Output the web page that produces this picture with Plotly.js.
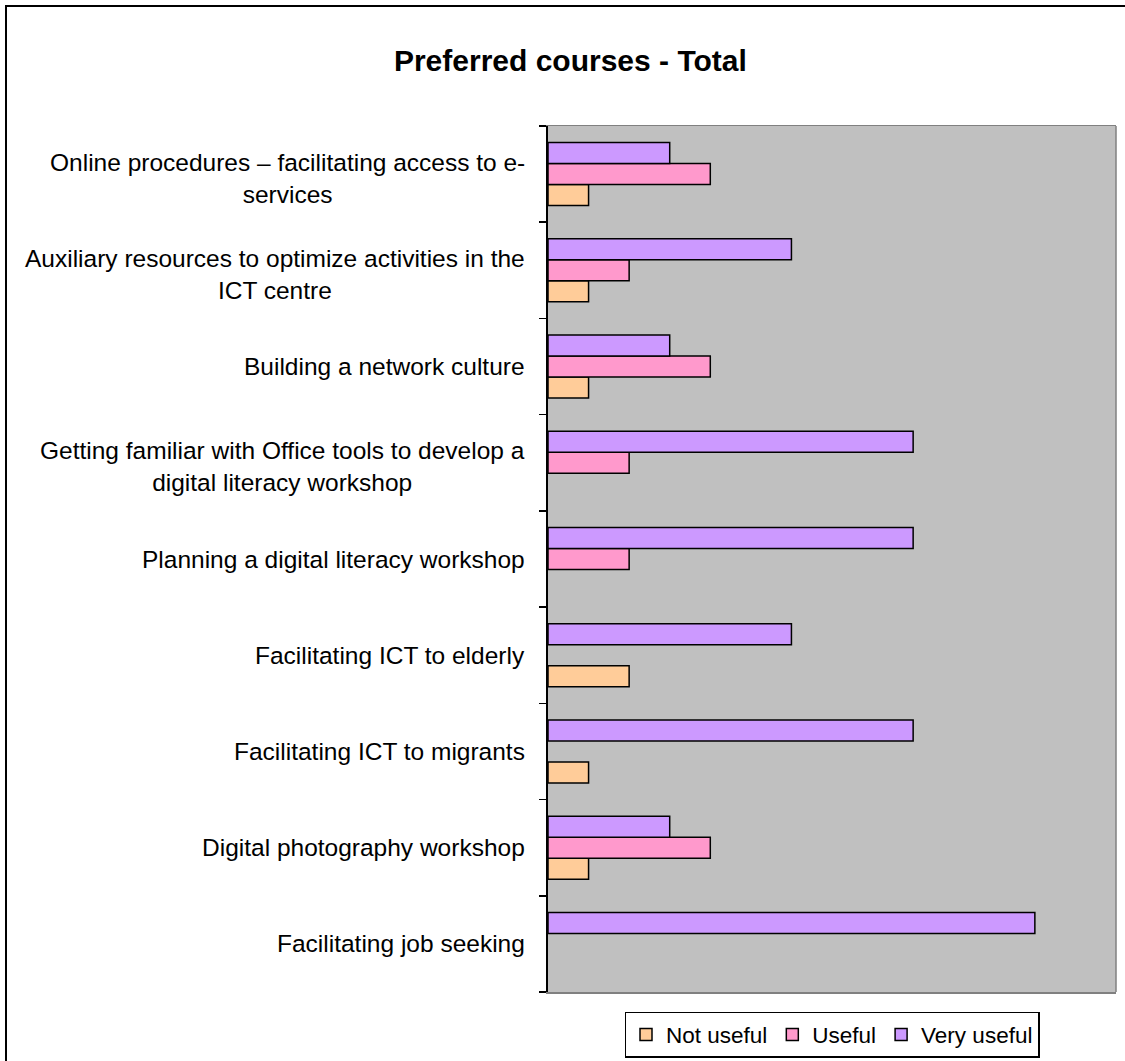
<!DOCTYPE html>
<html>
<head>
<meta charset="utf-8">
<script src="https://cdn.plot.ly/plotly-3.0.1.min.js"></script>
<style>
  html, body { margin: 0; padding: 0; overflow: hidden; background: #fff; }
  #chart { position: absolute; left: 0; top: 0; width: 1125px; height: 1061px; }
  #frame { position: absolute; left: 5px; top: 5px; width: 1300px; height: 1300px;
           border: 2px solid #000; pointer-events: none; box-sizing: border-box; }
</style>
</head>
<body>
<div id="chart"></div>
<div id="frame"></div>
<script>
// Categories listed bottom to top
const categories = [
  "Facilitating job seeking",
  "Digital photography workshop",
  "Facilitating ICT to migrants",
  "Facilitating ICT to elderly",
  "Planning a digital literacy workshop",
  "Getting familiar with Office tools to develop a<br>digital literacy workshop",
  "Building a network culture",
  "Auxiliary resources to optimize activities in the<br>ICT centre",
  "Online procedures – facilitating access to e-<br>services"
];
const notUseful  = [0, 1, 1, 2, 0, 0, 1, 1, 1];
const useful     = [0, 4, 0, 0, 2, 2, 4, 2, 4];
const veryUseful = [12, 3, 9, 6, 9, 9, 3, 6, 3];
const seriesNames = ["Not useful", "Useful", "Very useful"];
const seriesColors = ["#FFCC99", "#FF99CC", "#CC99FF"];
const seriesValues = [notUseful, useful, veryUseful];

const FONT = "Liberation Sans, Arial, sans-serif";

// zero values are not drawn (as in the original chart)
const traces = seriesValues.map((vals, i) => ({
  type: "bar",
  orientation: "h",
  name: seriesNames[i],
  y: categories,
  x: vals.map(v => (v === 0 ? null : v)),
  marker: {
    color: seriesColors[i],
    line: { color: "#000", width: 1.5 }
  },
  hoverinfo: "x+name"
}));

const annotations = categories.map(c => ({
  xref: "paper", yref: "y",
  x: 0, y: c,
  xanchor: "right", yanchor: "middle",
  xshift: -21,
  yshift: c.indexOf("<br>") >= 0 ? -4 : 0,
  align: "center",
  showarrow: false,
  text: c,
  font: { family: FONT, size: 24.5, color: "#000" }
}));

const layout = {
  width: 1125,
  height: 1061,
  margin: { l: 548, r: 9, t: 126, b: 69, autoexpand: false },
  paper_bgcolor: "#ffffff",
  plot_bgcolor: "#C0C0C0",
  barmode: "group",
  bargap: 0.345,
  bargroupgap: 0,
  showlegend: true,
  title: {
    text: "<b>Preferred courses - Total</b>",
    font: { family: FONT, size: 30, color: "#000" },
    xref: "container", yref: "container",
    x: 0.507, y: 0.9434, xanchor: "center", yanchor: "middle"
  },
  xaxis: {
    range: [0, 14],
    showgrid: false,
    zeroline: false,
    showticklabels: false,
    ticks: "",
    showline: true,
    linecolor: "#808080",
    linewidth: 1.5,
    mirror: true,
    fixedrange: true
  },
  yaxis: {
    type: "category",
    categoryorder: "array",
    categoryarray: categories,
    showgrid: false,
    zeroline: false,
    showticklabels: false,
    ticks: "outside",
    tickson: "boundaries",
    ticklen: 7,
    tickwidth: 1.5,
    tickcolor: "#000",
    showline: true,
    linecolor: "#000",
    linewidth: 2,
    fixedrange: true
  },
  shapes: [{
    type: "line", xref: "paper", yref: "paper",
    x0: 1, x1: 1, y0: 0, y1: 1,
    line: { color: "#808080", width: 1.5 }
  }],
  annotations: annotations,
  legend: {
    orientation: "h",
    x: 0.5, xanchor: "center",
    y: -0.023, yanchor: "top",
    bgcolor: "#ffffff",
    bordercolor: "#000",
    borderwidth: 1.5,
    font: { family: FONT, size: 22.5, color: "#000" },
    itemwidth: 30,
    traceorder: "normal"
  },
  font: { family: FONT, color: "#000" }
};

Plotly.newPlot("chart", traces, layout, { displayModeBar: false, staticPlot: true });
</script>
</body>
</html>
